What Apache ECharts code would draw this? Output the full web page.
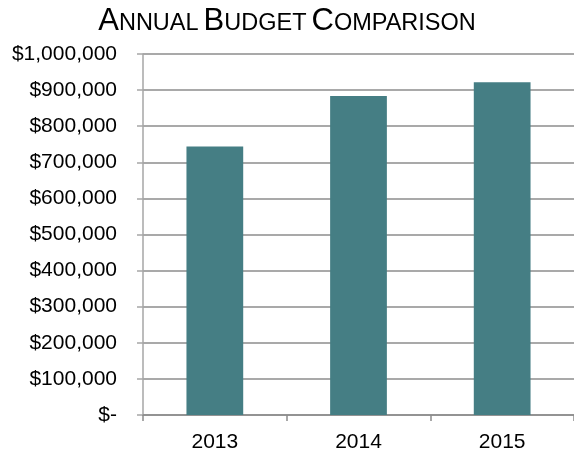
<!DOCTYPE html>
<html>
<head>
<meta charset="utf-8">
<script src="https://cdn.jsdelivr.net/npm/echarts@6/dist/echarts.min.js"></script>
<style>
  html, body { margin: 0; padding: 0; background: #ffffff; }
  #chart { width: 574px; height: 453px; }
</style>
</head>
<body>
<div id="chart"></div>
<script>
// Annual budget per year
const years = ['2013', '2014', '2015'];
const budget = [744000, 884000, 922000];
const yTicks = [0, 100000, 200000, 300000, 400000, 500000, 600000, 700000, 800000, 900000, 1000000];

const FONT = '"Liberation Sans", Arial, sans-serif';

function money(v) {
  if (v === 0) return '$-';
  return '$' + v.toLocaleString('en-US');
}

const chart = echarts.init(document.getElementById('chart'), null, { renderer: 'canvas' });

chart.setOption({
  backgroundColor: '#ffffff',
  animation: false,
  title: {
    // small-caps heading: capitals large, remaining letters smaller, sharing one baseline
    text: '{b|A}{s|NNUAL} {b|B}{s|UDGET} {b|C}{s|OMPARISON}',
    left: 'center',
    top: 1,
    textStyle: {
      rich: {
        b: { fontFamily: FONT, fontSize: 31, lineHeight: 31, verticalAlign: 'bottom', color: '#000000', fontWeight: 'normal' },
        s: { fontFamily: FONT, fontSize: 23.5, lineHeight: 23.5, verticalAlign: 'bottom', padding: [0, 0, 1.6, 0], color: '#000000', fontWeight: 'normal' }
      }
    }
  },
  grid: { left: 143, right: -4, top: 54, bottom: 36.5, containLabel: false },
  xAxis: {
    type: 'category',
    data: years,
    axisLine: { show: true, lineStyle: { color: '#8c8c8c', width: 1.5 } },
    axisTick: { show: true, length: 6, alignWithLabel: false, lineStyle: { color: '#8c8c8c', width: 1.5 } },
    axisLabel: { color: '#000000', fontFamily: FONT, fontSize: 21, margin: 17 },
    splitLine: { show: false }
  },
  yAxis: {
    type: 'value',
    min: yTicks[0],
    max: yTicks[yTicks.length - 1],
    interval: yTicks[1] - yTicks[0],
    axisLine: { show: true, lineStyle: { color: '#a6a6a6', width: 1.5 } },
    axisTick: { show: true, length: 6, lineStyle: { color: '#a6a6a6', width: 1.5 } },
    axisLabel: {
      color: '#000000', fontFamily: FONT, fontSize: 21, margin: 26,
      formatter: money
    },
    splitLine: { show: true, lineStyle: { color: '#8c8c8c', width: 1.5 } }
  },
  series: [{
    type: 'bar',
    data: budget,
    barWidth: '39.5%',
    itemStyle: { color: '#457e84' }
  }]
});
</script>
</body>
</html>
